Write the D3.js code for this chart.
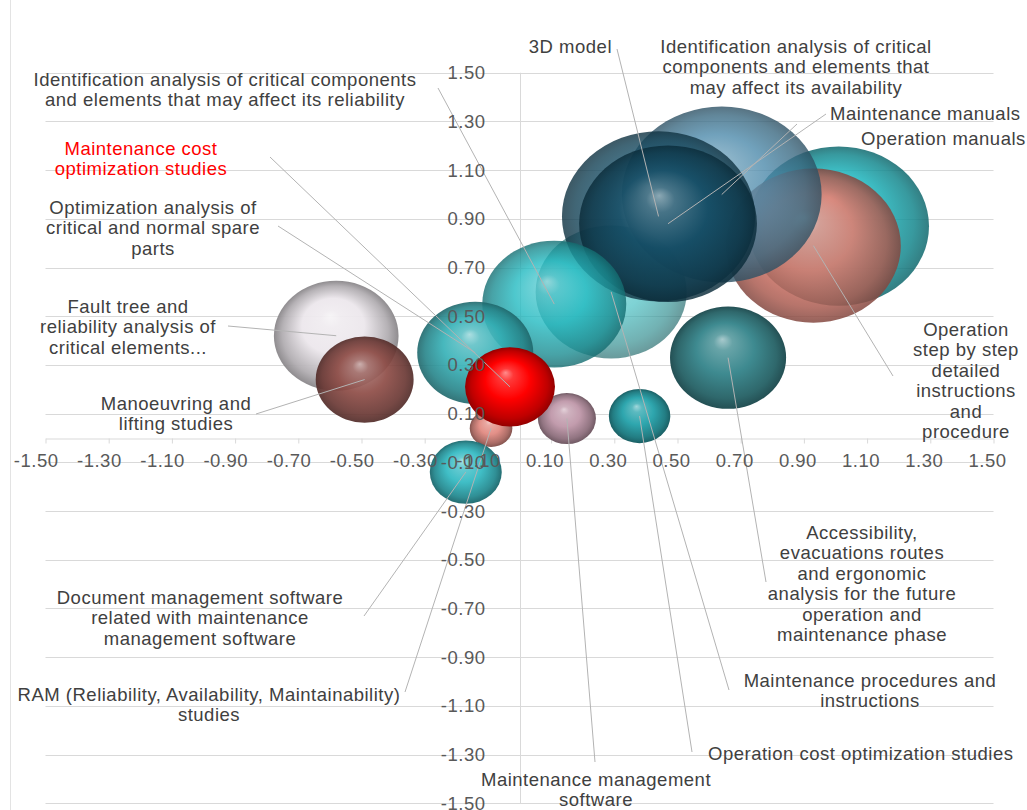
<!DOCTYPE html>
<html>
<head>
<meta charset="utf-8">
<script src="https://cdn.jsdelivr.net/npm/d3@7"></script>
<style>
  html, body { margin: 0; padding: 0; background: #ffffff; }
  svg { display: block; font-family: "Liberation Sans", Arial, Helvetica, sans-serif; }
</style>
</head>
<body>
<svg id="chart" width="1027" height="810"></svg>
<script>
// ---- data -------------------------------------------------------------
// bubbles in drawing order (back to front)
const categories = [
  "Operation manuals",
  "Operation step by step detailed instructions and procedure",
  "Maintenance procedures and instructions",
  "Identification analysis of critical components and elements that may affect its availability",
  "3D model",
  "Maintenance manuals",
  "Identification analysis of critical components and elements that may affect its reliability",
  "Accessibility, evacuations routes and ergonomic analysis for the future operation and maintenance phase",
  "Fault tree and reliability analysis of critical elements...",
  "Optimization analysis of critical and normal spare parts",
  "Manoeuvring and lifting studies",
  "RAM (Reliability, Availability, Maintainability) studies",
  "Maintenance management software",
  "Operation cost optimization studies",
  "Document management software related with maintenance management software",
  "Maintenance cost optimization studies"
];
const xValues = [1.01, 0.93, 0.29, 0.64, 0.44, 0.47, 0.11, 0.66, -0.58, -0.14, -0.49, -0.09, 0.15, 0.38, -0.17, -0.03];
const yValues = [0.87, 0.79, 0.60, 1.00, 0.91, 0.88, 0.55, 0.33, 0.42, 0.35, 0.24, 0.04, 0.08, 0.09, -0.14, 0.21];
const sizes   = [6.3, 5.9, 4.4, 7.7, 7.2, 6.1, 4.0, 2.6, 3.0, 2.6, 1.85, 0.35, 0.65, 0.73, 1.0, 1.56];

const xTicks = [-1.5, -1.3, -1.1, -0.9, -0.7, -0.5, -0.3, -0.1, 0.1, 0.3, 0.5, 0.7, 0.9, 1.1, 1.3, 1.5];
const yTicks = [-1.5, -1.3, -1.1, -0.9, -0.7, -0.5, -0.3, -0.1, 0.1, 0.3, 0.5, 0.7, 0.9, 1.1, 1.3, 1.5];

// label text, one entry per bubble, split into lines
const labelLines = [
  ["Operation manuals"],
  ["Operation", "step by step", "detailed", "instructions", "and", "procedure"],
  ["Maintenance procedures and", "instructions"],
  ["Identification analysis of critical", "components and elements that", "may affect its availability"],
  ["3D model"],
  ["Maintenance manuals"],
  ["Identification analysis of critical components", "and elements that may affect its reliability"],
  ["Accessibility,", "evacuations routes", "and ergonomic", "analysis for the future", "operation and", "maintenance phase"],
  ["Fault tree and", "reliability analysis of", "critical elements..."],
  ["Optimization analysis of", "critical and normal spare", "parts"],
  ["Manoeuvring and", "lifting studies"],
  ["RAM (Reliability, Availability, Maintainability)", "studies"],
  ["Maintenance management", "software"],
  ["Operation cost optimization studies"],
  ["Document management software", "related with maintenance", "management software"],
  ["Maintenance cost", "optimization studies"]
];

// ---- styles & layout --------------------------------------------------
const bubbleColors = ["#1cb4bc", "#e27a6c", "#48c0c3", "#4d8aab", "#1f5a74", "#124a62", "#22bac1", "#3e8a90",
                      "#ece7ec", "#33b0b6", "#8e4c46", "#e39088", "#c29cad", "#2ea6ae", "#40bec6", "#ff0000"];
const bubbleOpacity = [0.85, 0.85, 0.7, 0.8, 0.82, 0.82, 0.8, 1, 0.95, 0.9, 0.92, 1, 1, 1, 1, 1];

// label anchor (px), text-anchor, and start of leader line (px)
const labelLayout = [
  { x: 861, y: 145, anchor: "start",  lead: null },
  { x: 966, y: 336, anchor: "middle", lead: [893, 376] },
  { x: 870, y: 687, anchor: "middle", lead: [729, 690] },
  { x: 796, y: 53,  anchor: "middle", lead: [797, 124] },
  { x: 612, y: 53,  anchor: "end",    lead: [617, 49] },
  { x: 830, y: 120, anchor: "start",  lead: [826, 114] },
  { x: 225, y: 86,  anchor: "middle", lead: [438, 88] },
  { x: 862, y: 539, anchor: "middle", lead: [766, 582] },
  { x: 128, y: 313, anchor: "middle", lead: [228, 326] },
  { x: 153, y: 214, anchor: "middle", lead: [278, 226] },
  { x: 176, y: 410, anchor: "middle", lead: [256, 414] },
  { x: 209, y: 701, anchor: "middle", lead: [405, 692] },
  { x: 596, y: 786, anchor: "middle", lead: [595, 762] },
  { x: 708, y: 760, anchor: "start",  lead: [692, 752] },
  { x: 200, y: 604, anchor: "middle", lead: [364, 616] },
  { x: 141, y: 155, anchor: "middle", lead: [270, 157] }
];
const labelColors = categories.map((c, i) => i === 15 ? "#ff0000" : "#404040");

const W = 1027, H = 810;
const lineH = 20.4;
const aspect = 1.135;       // horizontal stretch of the bubbles

const svg = d3.select("#chart");
svg.append("rect").attr("width", W).attr("height", H).attr("fill", "#ffffff");

// chart-area border on the left
svg.append("line").attr("x1", 10.5).attr("x2", 10.5).attr("y1", 0).attr("y2", H)
  .attr("stroke", "#e3e3e3").attr("stroke-width", 1);

const x = d3.scaleLinear().domain([-1.5, 1.5]).range([45.5, 993.5]);
const y = d3.scaleLinear().domain([-1.5, 1.5]).range([803.25, 72.75]);
const r = d3.scaleSqrt().domain([0, 7.7]).range([0, 88]);
const fmt = v => v.toFixed(2);

// gridlines
svg.append("g").selectAll("line").data(yTicks).join("line")
  .attr("x1", x(-1.5)).attr("x2", x(1.5))
  .attr("y1", d => Math.round(y(d)) + 0.5).attr("y2", d => Math.round(y(d)) + 0.5)
  .attr("stroke", "#d9d9d9").attr("stroke-width", 1);

// vertical axis at x = 0
svg.append("line")
  .attr("x1", Math.round(x(0)) + 0.5).attr("x2", Math.round(x(0)) + 0.5)
  .attr("y1", y(1.5)).attr("y2", y(-1.5))
  .attr("stroke", "#d9d9d9").attr("stroke-width", 1);

// horizontal axis at y = 0 (line + tick marks)
const xAxis = svg.append("g")
  .attr("transform", `translate(0,${Math.round(y(0)) + 0.5})`)
  .call(d3.axisBottom(x).tickValues(xTicks).tickSize(5).tickSizeOuter(0).tickFormat(""));
xAxis.select(".domain").attr("stroke", "#d9d9d9");
xAxis.selectAll(".tick line").attr("stroke", "#d9d9d9");

// gradients for the spheres
const defs = svg.append("defs");
const lighten = (c, t) => d3.interpolateRgb(c, "#ffffff")(t);
const darken = (c, t) => d3.interpolateRgb(c, "#000000")(t);
bubbleColors.forEach((c, i) => {
  const g = defs.append("radialGradient").attr("id", "bub" + i)
    .attr("cx", 0.5).attr("cy", 0.5).attr("r", 0.5).attr("fx", 0.45).attr("fy", 0.32);
  const stops = [
    [0, lighten(c, 0.55)],
    [0.16, lighten(c, 0.22)],
    [0.5, c],
    [0.85, darken(c, 0.25)],
    [1, darken(c, 0.42)]
  ];
  g.selectAll("stop").data(stops).join("stop")
    .attr("offset", d => d[0]).attr("stop-color", d => d[1]);
});

// bubbles
const idx = d3.range(categories.length);
svg.append("g").selectAll("ellipse").data(idx).join("ellipse")
  .attr("cx", i => x(xValues[i]))
  .attr("cy", i => y(yValues[i]))
  .attr("rx", i => r(sizes[i]) * aspect)
  .attr("ry", i => r(sizes[i]))
  .attr("fill", i => `url(#bub${i})`)
  .attr("fill-opacity", i => bubbleOpacity[i]);

// leader lines
svg.append("g").selectAll("line").data(idx.filter(i => labelLayout[i].lead)).join("line")
  .attr("x1", i => labelLayout[i].lead[0]).attr("y1", i => labelLayout[i].lead[1])
  .attr("x2", i => x(xValues[i])).attr("y2", i => y(yValues[i]))
  .attr("stroke", "#b3b3b3").attr("stroke-width", 1);

// tick labels
const tickStyle = sel => sel.attr("font-size", 18.5).attr("letter-spacing", 0.5).attr("fill", "#595959");
svg.append("g").selectAll("text").data(yTicks).join("text")
  .attr("x", x(0) - 34).attr("y", d => y(d) + 6.5)
  .attr("text-anchor", "end").text(fmt).call(tickStyle);
svg.append("g").selectAll("text").data(xTicks).join("text")
  .attr("x", d => x(d) + 13).attr("y", y(0) + 29)
  .attr("text-anchor", "end").text(fmt).call(tickStyle);

// data labels
const labels = svg.append("g").selectAll("text").data(idx).join("text")
  .attr("x", i => labelLayout[i].x).attr("y", i => labelLayout[i].y)
  .attr("text-anchor", i => labelLayout[i].anchor)
  .attr("font-size", 18.5).attr("letter-spacing", 0.5)
  .attr("fill", i => labelColors[i]);
labels.each(function (i) {
  d3.select(this).selectAll("tspan").data(labelLines[i]).join("tspan")
    .attr("x", labelLayout[i].x)
    .attr("dy", (d, k) => k === 0 ? 0 : lineH)
    .text(d => d);
});
</script>
</body>
</html>
